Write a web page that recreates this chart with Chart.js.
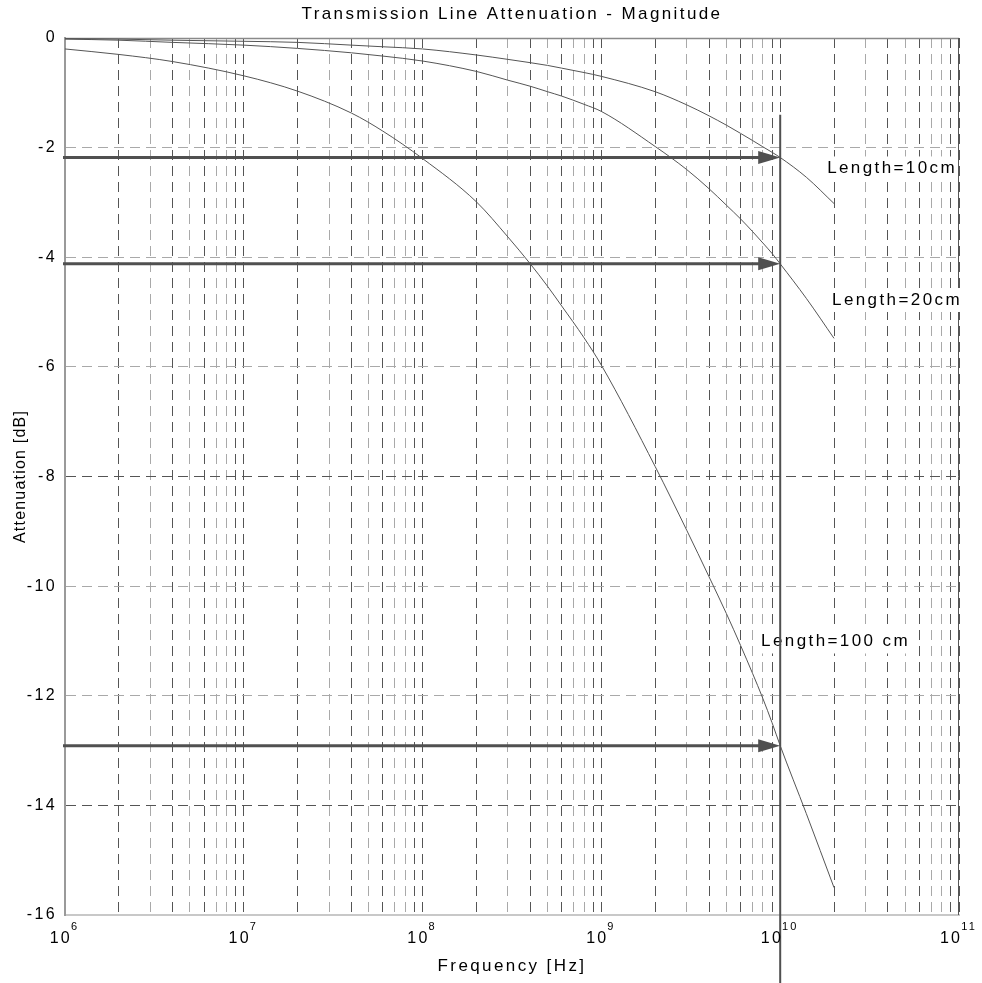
<!DOCTYPE html>
<html>
<head>
<meta charset="utf-8">
<title>Transmission Line Attenuation - Magnitude</title>
<script src="https://cdn.jsdelivr.net/npm/chart.js@4/dist/chart.umd.min.js"></script>
<style>
  html, body { margin: 0; padding: 0; background: #ffffff; }
  #wrap { width: 982px; height: 983px; position: relative; }
</style>
</head>
<body>
<div id="wrap"><canvas id="chart"></canvas></div>
<script>
// Sample frequencies (Hz)
const frequencyHz = [1e6, 2e6, 4e6, 1e7, 2e7, 4e7, 6e7, 1e8, 2e8, 3e8, 4e8, 5e8, 6e8, 8e8,
                     1e9, 2e9, 3e9, 4e9, 5e9, 6e9, 7e9, 8e9, 9e9, 1e10, 1.4e10, 2e10];

// Attenuation (dB) of each line length at those frequencies
const atten10cm  = [-0.01, -0.02, -0.04, -0.06, -0.08, -0.13, -0.16, -0.20, -0.31, -0.39, -0.45, -0.50, -0.55, -0.63,
                    -0.70, -0.98, -1.22, -1.42, -1.59, -1.74, -1.87, -1.985, -2.085, -2.18, -2.54, -3.02];
const atten20cm  = [-0.02, -0.04, -0.08, -0.13, -0.19, -0.27, -0.33, -0.42, -0.61, -0.77, -0.88, -0.98, -1.06, -1.21,
                    -1.34, -1.98, -2.40, -2.75, -3.05, -3.30, -3.53, -3.74, -3.93, -4.12, -4.75, -5.48];
const atten100cm = [-0.20, -0.30, -0.43, -0.69, -0.97, -1.37, -1.70, -2.20, -2.99, -3.63, -4.12, -4.53, -4.89, -5.47,
                    -5.97, -7.82, -8.98, -9.83, -10.50, -11.08, -11.59, -12.05, -12.49, -12.91, -14.15, -15.50];

// Axis ticks
const yTickValues = [0, -2, -4, -6, -8, -10, -12, -14, -16];
const decadeExponents = [6, 7, 8, 9, 10, 11];
const minorMantissas = [1, 2, 3, 4, 5, 6, 7, 8, 9];

// Read-out marker at 10 GHz and the attenuation levels it points to
const markerFreq = 1e10;
const markerSpan = [-1.4, -17.3];
const arrowLevels = [-2.18, -4.12, -12.91];

// Length labels, anchored at their left edge / vertical middle (data units)
const lengthNotes = [
  { text: 'Length=10cm',   x: 1.83e10, y: -2.38 },
  { text: 'Length=20cm',   x: 1.95e10, y: -4.78 },
  { text: 'Length=100 cm', x: 7.82e9,  y: -11.01 }
];

const FONT = '"Liberation Sans", Arial, Helvetica, sans-serif';
const GRID_DARK = '#555555';
const GRID_LIGHT = '#a9a9a9';
const CURVE = '#555555';
const MARK = '#505050';
const DASH = [10, 6];

Chart.defaults.font.family = FONT;
Chart.defaults.color = '#000000';

function toPoints(ys) { return frequencyHz.map((f, i) => ({ x: f, y: ys[i] })); }

function xGridColor(c) {
  const v = c.tick ? c.tick.value : 0;
  if (!v) return GRID_DARK;
  const m = Math.round(v / Math.pow(10, Math.floor(Math.log10(v) + 1e-9)));
  return [1, 2, 4, 6, 9].includes(m) ? GRID_DARK : GRID_LIGHT;
}
function yGridColor(c) {
  const v = c.tick ? c.tick.value : 0;
  return (v === -8 || v === -14) ? GRID_DARK : GRID_LIGHT;
}

// run a drawing method with a given letter spacing
function withSpacing(obj, method, spacing) {
  if (!obj || obj['_spaced_' + method]) return;
  const orig = obj[method];
  obj[method] = function () {
    const c = this.ctx;
    const prev = c.letterSpacing;
    c.letterSpacing = spacing;
    const r = orig.apply(this, arguments);
    c.letterSpacing = prev;
    return r;
  };
  obj['_spaced_' + method] = true;
}

const decorations = {
  id: 'decorations',
  afterLayout(chart) {
    withSpacing(chart.scales.y, 'drawTitle', '1.2px');
  },
  beforeDraw(chart) {
    chart.ctx.letterSpacing = '2.4px';
  },
  beforeDatasetsDraw(chart) {
    const { ctx, chartArea: a, scales: { x, y } } = chart;
    ctx.save();
    // top and right frame
    ctx.lineWidth = 1.5;
    ctx.strokeStyle = '#8a8a8a';
    ctx.beginPath(); ctx.moveTo(a.left, a.top + 0.5); ctx.lineTo(a.right, a.top + 0.5); ctx.stroke();
    ctx.lineWidth = 1;
    ctx.strokeStyle = '#555555';
    ctx.beginPath(); ctx.moveTo(a.right - 0.5, a.top); ctx.lineTo(a.right - 0.5, a.bottom); ctx.stroke();

    // length labels on white boxes
    ctx.font = '17px ' + FONT;
    ctx.letterSpacing = '2.4px';
    ctx.textAlign = 'left';
    ctx.textBaseline = 'middle';
    lengthNotes.forEach(n => {
      const px = x.getPixelForValue(n.x);
      const py = y.getPixelForValue(n.y);
      const w = ctx.measureText(n.text).width;
      ctx.fillStyle = '#ffffff';
      ctx.fillRect(px - 3, py - 12, w + 4, 24);
      ctx.fillStyle = '#000000';
      ctx.fillText(n.text, px, py);
    });
    ctx.restore();
  },
  afterDatasetsDraw(chart) {
    const { ctx, chartArea: a, scales: { x, y } } = chart;
    const tipX = x.getPixelForValue(markerFreq);
    ctx.save();
    ctx.strokeStyle = MARK;
    ctx.fillStyle = MARK;
    ctx.lineWidth = 3;
    arrowLevels.forEach(lv => {
      const py = y.getPixelForValue(lv);
      ctx.beginPath();
      ctx.moveTo(a.left - 2, py);
      ctx.lineTo(tipX - 18, py);
      ctx.stroke();
      ctx.beginPath();
      ctx.moveTo(tipX, py);
      ctx.lineTo(tipX - 22, py - 6.5);
      ctx.lineTo(tipX - 22, py + 6.5);
      ctx.closePath();
      ctx.fill();
    });
    ctx.restore();
  },
  afterDraw(chart) {
    const { ctx, chartArea: a, scales: { x } } = chart;
    ctx.save();
    ctx.fillStyle = '#000000';
    ctx.textAlign = 'left';
    ctx.textBaseline = 'alphabetic';
    ctx.letterSpacing = '2.2px';
    decadeExponents.forEach(e => {
      const px = x.getPixelForValue(Math.pow(10, e));
      const sup = String(e);
      ctx.font = '16px ' + FONT;
      const wb = ctx.measureText('10').width;
      ctx.font = '11px ' + FONT;
      const we = ctx.measureText(sup).width;
      const left = px - (wb + we) / 2;
      ctx.font = '16px ' + FONT;
      ctx.fillText('10', left, a.bottom + 28);
      ctx.font = '11px ' + FONT;
      ctx.fillText(sup, left + wb - 1, a.bottom + 15);
    });
    ctx.restore();
  }
};

const lineStyle = { borderColor: CURVE, borderWidth: 1, pointRadius: 0, fill: false, cubicInterpolationMode: 'monotone' };

new Chart(document.getElementById('chart'), {
  type: 'line',
  data: {
    datasets: [
      Object.assign({ label: 'Length=10cm',   data: toPoints(atten10cm) }, lineStyle),
      Object.assign({ label: 'Length=20cm',   data: toPoints(atten20cm) }, lineStyle),
      Object.assign({ label: 'Length=100 cm', data: toPoints(atten100cm) }, lineStyle),
      {
        label: '10 GHz',
        data: markerSpan.map(v => ({ x: markerFreq, y: v })),
        borderColor: MARK, borderWidth: 2, pointRadius: 0, clip: false
      }
    ]
  },
  options: {
    responsive: true,
    maintainAspectRatio: false,
    animation: false,
    events: [],
    layout: { padding: { left: 0, right: 23, top: 0, bottom: 0 } },
    plugins: {
      legend: { display: false },
      tooltip: { enabled: false },
      title: {
        display: true,
        fullSize: false,
        text: 'Transmission Line Attenuation - Magnitude',
        color: '#000000',
        font: { size: 17, weight: 'normal' },
        padding: { top: 4.5, bottom: 13.1 }
      }
    },
    scales: {
      x: {
        type: 'logarithmic',
        position: 'bottom',
        min: 1e6,
        max: 1e11,
        afterBuildTicks(scale) {
          const t = [];
          decadeExponents.forEach((e, i) => {
            const base = Math.pow(10, e);
            const ms = i === decadeExponents.length - 1 ? [1] : minorMantissas;
            ms.forEach(m => t.push({ value: m * base, major: m === 1 }));
          });
          scale.ticks = t;
        },
        afterFit(scale) { scale.height = 68; },
        ticks: { display: false, autoSkip: false },
        grid: { color: xGridColor, lineWidth: 1, drawTicks: false },
        border: { display: true, color: '#c8c8c8', width: 2, dash: DASH },
        title: {
          display: true,
          text: 'Frequency [Hz]',
          color: '#000000',
          font: { size: 17 },
          padding: { top: 0, bottom: 6 }
        }
      },
      y: {
        type: 'linear',
        min: -16,
        max: 0,
        afterBuildTicks(scale) { scale.ticks = yTickValues.map(v => ({ value: v })); },
        afterFit(scale) { scale.width = 65; },
        ticks: { font: { size: 16 }, color: '#000000', padding: 8, callback: v => String(v) },
        grid: { color: yGridColor, lineWidth: 1, drawTicks: false },
        border: { display: true, color: '#9a9a9a', width: 2, dash: DASH },
        title: {
          display: true,
          text: 'Attenuation [dB]',
          color: '#000000',
          font: { size: 16 },
          padding: { top: 11, bottom: 0 }
        }
      }
    }
  },
  plugins: [decorations]
});
</script>
</body>
</html>
